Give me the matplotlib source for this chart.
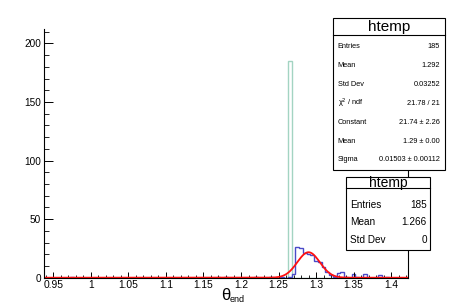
import numpy as np
import matplotlib.pyplot as plt
from matplotlib.patches import Rectangle
from matplotlib.ticker import MultipleLocator

plt.rcParams['font.family'] = ['Liberation Sans', 'DejaVu Sans']

# binning of htemp
x_lo, x_hi, bin_w = 0.9375, 1.4225, 0.005

# light green histogram: every entry in one bin
teal_centers = [1.265]
teal_counts = [185]

# blue histogram
blue_centers = [0.975, 1.17, 1.18, 1.22, 1.24, 1.255, 1.265, 1.27, 1.275, 1.28,
                1.285, 1.29, 1.295, 1.30, 1.305, 1.31, 1.315, 1.32, 1.325, 1.33,
                1.335, 1.34, 1.35, 1.355, 1.365, 1.385, 1.395]
blue_counts = [1, 1, 1, 1, 1, 1, 1, 3, 26, 25,
               21, 20, 19, 14, 13, 9, 5, 2, 1, 4,
               5, 1, 3, 1, 3, 2, 1]

# gaus fit result
fit_const, fit_mean, fit_sigma = 21.74, 1.29, 0.01503

x_ticks = [0.95, 1, 1.05, 1.1, 1.15, 1.2, 1.25, 1.3, 1.35, 1.4]
x_ticklabels = ['0.95', '1', '1.05', '1.1', '1.15', '1.2', '1.25', '1.3', '1.35', '1.4']
y_ticks = [0, 50, 100, 150, 200]

stats_fit = [('Entries', '185'), ('Mean', '1.292'), ('Std Dev', '0.03252'),
             ('χ$^{2}$ / ndf', '21.78 / 21'), ('Constant', '21.74 ± 2.26'),
             ('Mean', '1.29 ± 0.00'), ('Sigma', '0.01503 ± 0.00112')]
stats_plain = [('Entries', '185'), ('Mean', '1.266'), ('Std Dev', '0')]

W, H = 453, 308


def fx(x):
    return x / W


def fy(y):
    return 1 - y / H


def to_hist(centers, counts):
    nb = int(round((x_hi - x_lo) / bin_w))
    h = np.zeros(nb)
    for c, n in zip(centers, counts):
        h[int(round((c - x_lo) / bin_w - 0.5))] += n
    return h


edges = x_lo + bin_w * np.arange(int(round((x_hi - x_lo) / bin_w)) + 1)

fig = plt.figure(figsize=(W / 100, H / 100), dpi=100)
ax = fig.add_axes([fx(44), fy(277.7), fx(408 - 44), (277.7 - 29.3) / H])

ax.stairs(to_hist(teal_centers, teal_counts), edges, color='#a3d4c2', lw=1.0)
ax.stairs(to_hist(blue_centers, blue_counts), edges, color='#4a4ac8', lw=1.0)
xs = np.linspace(x_lo, x_hi, 600)
ax.plot(xs, fit_const * np.exp(-0.5 * ((xs - fit_mean) / fit_sigma) ** 2),
        color='#ff1010', lw=1.3)

ax.set_xlim(x_lo, x_hi)
ax.set_ylim(0, 212)
ax.spines['top'].set_visible(False)
for s in ax.spines.values():
    s.set_linewidth(0.8)
ax.set_xticks(x_ticks)
ax.set_xticklabels(x_ticklabels)
ax.set_yticks(y_ticks)
ax.xaxis.set_minor_locator(MultipleLocator(0.01))
ax.yaxis.set_minor_locator(MultipleLocator(10))
ax.tick_params(axis='x', which='major', direction='in', length=4, width=0.7,
               labelsize=7.4, pad=2, top=False)
ax.tick_params(axis='x', which='minor', direction='in', length=2, width=0.6, top=False)
ax.tick_params(axis='y', which='major', direction='in', length=6.5, width=0.7,
               labelsize=7.2, pad=2, right=False)
ax.tick_params(axis='y', which='minor', direction='in', length=3.3, width=0.6, right=False)

fig.text(fx(221), fy(296), 'θ', fontsize=12, ha='left', va='center')
fig.text(fx(230), fy(300), 'end', fontsize=6.5, ha='left', va='center')


def stats_box(x0, x1, y0, yh, y1, rows, row_y, fs_row, lab_x, val_x, fs_title):
    fig.add_artist(Rectangle((fx(x0), fy(y1)), fx(x1 - x0), (y1 - y0) / H,
                             transform=fig.transFigure, facecolor='white',
                             edgecolor='black', lw=0.8, zorder=5))
    fig.add_artist(plt.Line2D([fx(x0), fx(x1)], [fy(yh), fy(yh)],
                              transform=fig.transFigure, color='black',
                              lw=0.8, zorder=6))
    fig.text(fx((x0 + x1) / 2), fy((y0 + yh) / 2 + 1), 'htemp', fontsize=fs_title,
             ha='center', va='center', zorder=7)
    for (lab, val), yy in zip(rows, row_y):
        fig.text(fx(lab_x), fy(yy), lab, fontsize=fs_row, ha='left',
                 va='center', zorder=7)
        fig.text(fx(val_x), fy(yy), val, fontsize=fs_row, ha='right',
                 va='center', zorder=7)


stats_box(333, 445, 18, 34.5, 169.5, stats_fit,
          [46.7, 65.3, 84.3, 103.3, 122, 141, 160], 5.3, 337.5, 440, 11)
stats_box(346, 430, 176.7, 188.3, 250, stats_plain,
          [205, 221.7, 240], 7.2, 350, 427, 10)

fig.savefig('out.png', dpi=100)
